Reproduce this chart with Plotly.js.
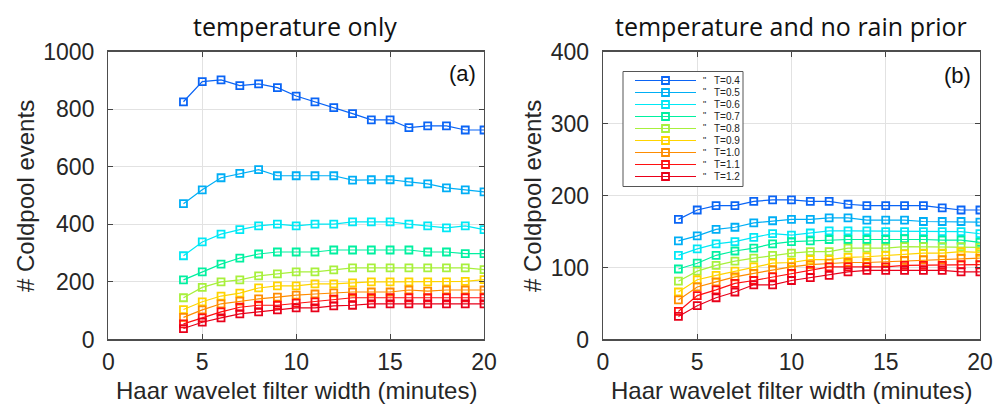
<!DOCTYPE html>
<html><head><meta charset="utf-8">
<script src="https://cdn.plot.ly/plotly-3.0.1.min.js"></script>
<style>html,body{margin:0;padding:0;background:#fff}#plot{width:1003px;height:404px}</style>
</head><body><div id="plot"></div>
<script>
const widths = [4,5,6,7,8,9,10,11,12,13,14,15,16,17,18,19,20];
const thresholds = ["T=0.4","T=0.5","T=0.6","T=0.7","T=0.8","T=0.9","T=1.0","T=1.1","T=1.2"];
const colors = ["#0a64f5","#00aef5","#00e8f5","#00f0a0","#a8f03c","#ffd400","#ff8c00","#ff1010","#e8001a"];
const xTicks = [0,5,10,15,20];

// Panel (a): temperature only
const tempOnly04 = [826,896,902,882,888,875,846,826,806,785,763,763,736,742,742,728,728];
const tempOnly05 = [472,520,562,577,590,569,569,569,569,554,555,555,548,541,527,520,513];
const tempOnly06 = [291,339,366,382,395,401,395,401,401,409,409,409,401,395,388,395,382];
const tempOnly07 = [207,235,262,283,297,304,304,304,311,311,311,311,311,304,304,298,298];
const tempOnly08 = [145,181,200,207,221,228,235,235,242,249,249,249,249,249,249,249,243];
const tempOnly09 = [104,131,151,161,179,186,186,193,193,197,200,200,200,200,200,202,208];
const tempOnly10 = [77,103,124,133,141,147,154,158,162,165,165,165,172,168,172,172,172];
const tempOnly11 = [54,75,96,112,119,119,126,131,140,145,145,145,145,145,145,145,145];
const tempOnly12 = [38,60,75,89,96,103,110,110,117,119,124,124,124,124,124,124,124];

// Panel (b): temperature and no rain prior
const noRain04 = [167,180,186,186,192,194,194,192,192,188,186,186,186,186,183,180,180];
const noRain05 = [137,144,153,156,162,165,167,167,169,169,166,166,166,164,164,164,163];
const noRain06 = [117,126,133,136,142,147,145,148,151,151,151,150,150,150,150,150,147];
const noRain07 = [98,106,117,123,127,133,136,137,139,139,139,139,140,139,138,138,135];
const noRain08 = [81,95,103,109,113,117,120,122,122,127,127,127,129,129,129,129,128];
const noRain09 = [66,83,89,95,101,106,107,111,111,114,115,117,119,120,120,122,121];
const noRain10 = [55,73,80,87,92,97,101,104,106,107,107,108,110,111,111,113,113];
const noRain11 = [39,61,69,78,82,87,92,96,101,101,101,101,103,103,103,104,104];
const noRain12 = [32,47,58,66,76,76,82,86,89,94,96,96,96,96,96,94,94];

const seriesA = [tempOnly04,tempOnly05,tempOnly06,tempOnly07,tempOnly08,tempOnly09,tempOnly10,tempOnly11,tempOnly12];
const seriesB = [noRain04,noRain05,noRain06,noRain07,noRain08,noRain09,noRain10,noRain11,noRain12];

const W = 1003, H = 404;
const px = v => v / W;          // page pixel -> paper x
const py = v => 1 - v / H;      // page pixel -> paper y

const traces = [];
function addSeries(list, xa, ya){
  list.forEach((ys,i)=>{
    traces.push({x:widths,y:ys,xaxis:xa,yaxis:ya,mode:'lines+markers',showlegend:false,name:thresholds[i],
      line:{color:colors[i],width:1.2},
      marker:{symbol:'square-open',size:7,color:colors[i],line:{width:1.8,color:colors[i]}}});
  });
}
addSeries(seriesA,'x','y');
addSeries(seriesB,'x2','y2');

const tickFont = {family:'Liberation Sans, Arial, sans-serif',size:23,color:'#262626'};
function xax(domain, anchor){
  return {domain:domain,anchor:anchor,range:[0,20],tickvals:xTicks,ticks:'inside',ticklen:5,tickcolor:'#444',
    showline:true,mirror:'ticks',linecolor:'#4d4d4d',linewidth:1.3,showgrid:true,gridcolor:'#e2e2e2',zeroline:false,
    tickfont:tickFont,ticklabelstandoff:2,automargin:false};
}
function yax(range,dtick,anchor){
  return {domain:[0.1597,0.872],anchor:anchor,range:range,dtick:dtick,ticks:'inside',ticklen:5,tickcolor:'#444',
    showline:true,mirror:'ticks',linecolor:'#4d4d4d',linewidth:1.3,showgrid:true,gridcolor:'#e2e2e2',zeroline:false,
    tickfont:tickFont,ticklabelstandoff:8,automargin:false};
}

const labelFont = {family:'Liberation Sans, Arial, sans-serif',size:24,color:'#262626'};
const titleFont = {family:'Open Sans, sans-serif',size:25,color:'#111'};
const annotations = [
  {text:'temperature only',x:px(295),y:py(26),font:titleFont},
  {text:'temperature and no rain prior',x:px(791),y:py(26),font:titleFont},
  {text:'Haar wavelet filter width (minutes)',x:px(296),y:py(390),font:labelFont},
  {text:'Haar wavelet filter width (minutes)',x:px(791),y:py(390),font:labelFont},
  {text:'# Coldpool events',x:px(25),y:py(196),textangle:-90,font:labelFont},
  {text:'# Coldpool events',x:px(532),y:py(196),textangle:-90,font:labelFont},
  {text:'(a)',x:px(462),y:py(74),font:{family:'Liberation Sans, Arial, sans-serif',size:22,color:'#111'}},
  {text:'(b)',x:px(957),y:py(76),font:{family:'Liberation Sans, Arial, sans-serif',size:22,color:'#111'}}
].map(a=>Object.assign({xref:'paper',yref:'paper',xanchor:'center',yanchor:'middle',showarrow:false},a));

// Legend for panel (b), drawn as a box with sample lines, markers and labels
const shapes = [
  {type:'rect',xref:'paper',yref:'paper',x0:px(623),x1:px(743),y0:py(186.5),y1:py(71.5),
    line:{color:'#555',width:1},fillcolor:'#fff',layer:'above'}
];
thresholds.forEach((t,i)=>{
  const yy = 80.5 + i*12;
  shapes.push({type:'line',xref:'paper',yref:'paper',x0:px(635),x1:px(696),y0:py(yy),y1:py(yy),
    line:{color:colors[i],width:1.2},layer:'above'});
  shapes.push({type:'rect',xref:'paper',yref:'paper',x0:px(662),x1:px(669),y0:py(yy+3.5),y1:py(yy-3.5),
    line:{color:colors[i],width:1.8},fillcolor:'rgba(0,0,0,0)',layer:'above'});
  annotations.push({text:'"',xref:'paper',yref:'paper',x:px(704),y:py(yy-1),xanchor:'center',yanchor:'middle',
    showarrow:false,font:{family:'Liberation Sans, Arial, sans-serif',size:9,color:'#222'}});
  annotations.push({text:t,xref:'paper',yref:'paper',x:px(712),y:py(yy),xanchor:'left',yanchor:'middle',
    showarrow:false,font:{family:'Liberation Sans, Arial, sans-serif',size:10,color:'#222'}});
});

const layout = {
  width:W,height:H,margin:{l:0,r:0,t:0,b:0},paper_bgcolor:'#fff',plot_bgcolor:'#fff',showlegend:false,
  xaxis:xax([0.108,0.4826],'y'),
  yaxis:yax([0,1000],200,'x'),
  xaxis2:xax([0.6012,0.977],'y2'),
  yaxis2:yax([0,400],100,'x2'),
  shapes:shapes,
  annotations:annotations
};
Plotly.newPlot('plot',traces,layout,{displayModeBar:false,staticPlot:true});
</script></body></html>
